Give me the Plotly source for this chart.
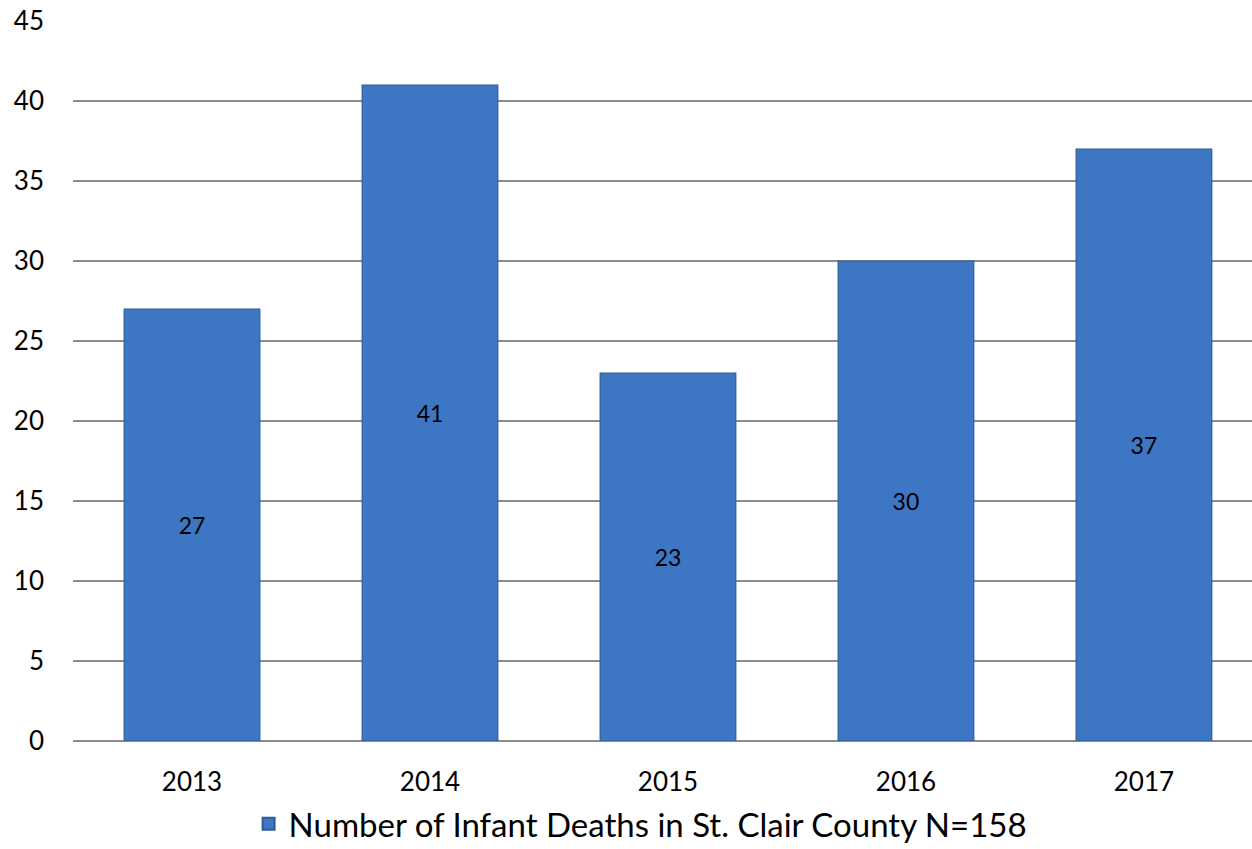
import plotly.graph_objects as go

years = ["2013", "2014", "2015", "2016", "2017"]
deaths = [27, 41, 23, 30, 37]
series_name = "Number of Infant Deaths in St. Clair County N=158"
y_ticks = [0, 5, 10, 15, 20, 25, 30, 35, 40, 45]

FONT = "Lato, Calibri, Carlito, sans-serif"

fig = go.Figure()
fig.add_trace(go.Bar(
    x=years,
    y=deaths,
    name=series_name,
    width=0.57,
    marker=dict(color="#3d76c2", line=dict(color="#2d5c9b", width=1.2)),
    text=[str(v) for v in deaths],
    textposition="inside",
    insidetextanchor="middle",
    textangle=0,
    textfont=dict(family=FONT, size=23, color="#000000"),
    showlegend=True,
))

fig.update_layout(
    width=1252,
    height=849,
    margin=dict(l=73, r=0, t=21, b=108, autoexpand=False),
    paper_bgcolor="white",
    plot_bgcolor="white",
    font=dict(family=FONT, color="#000000"),
    showlegend=True,
    legend=dict(
        orientation="h",
        x=0.481, xanchor="center",
        y=-0.076, yanchor="top",
        font=dict(family=FONT, size=33, color="#000000"),
        itemsizing="constant",
    ),
)

fig.update_xaxes(
    range=[-0.5, 4.454],
    showgrid=False,
    showline=False,
    ticks="",
    tickfont=dict(family=FONT, size=26, color="#000000"),
    ticklabelstandoff=23,
)

fig.update_yaxes(
    range=[0, 45],
    tickvals=y_ticks,
    showgrid=True,
    gridcolor="#8c8c8c",
    gridwidth=1.5,
    zeroline=True,
    zerolinecolor="#8c8c8c",
    zerolinewidth=1.5,
    showline=False,
    ticks="",
    tickfont=dict(family=FONT, size=26, color="#000000"),
    ticklabelstandoff=28,
)

fig.write_html("out.html")
